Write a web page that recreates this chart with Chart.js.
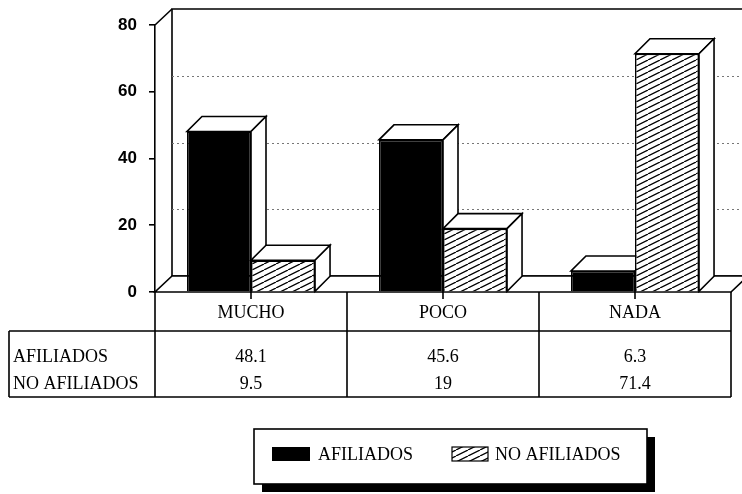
<!DOCTYPE html>
<html>
<head>
<meta charset="utf-8">
<script src="https://cdn.jsdelivr.net/npm/chart.js@4.4.1/dist/chart.umd.min.js"></script>
<style>
  html, body { margin: 0; padding: 0; background: #fff; }
  #wrap { width: 742px; height: 494px; }
</style>
</head>
<body>
<div id="wrap"><canvas id="chart" width="742" height="494"></canvas></div>
<script>
// Grouped 3D-style bars with a data table underneath.
const categories = ['MUCHO', 'POCO', 'NADA'];
const seriesNames = ['AFILIADOS', 'NO AFILIADOS'];
const afiliados = [48.1, 45.6, 6.3];
const noAfiliados = [9.5, 19, 71.4];
const yTicks = [0, 20, 40, 60, 80];

const DEPTH_X = 17;   // back wall offset
const DEPTH_Y = -16;
const BAR_DX = 15;    // bar depth
const BAR_DY = -15;
const LINE_W = 1.6;
const SERIF = '"Liberation Serif", "DejaVu Serif", serif';
const TEXT_FONT = '18px ' + SERIF;

function makeHatch() {
  const c = document.createElement('canvas');
  c.width = 12;
  c.height = 6;
  const g = c.getContext('2d');
  g.fillStyle = '#fff';
  g.fillRect(0, 0, 12, 6);
  g.strokeStyle = '#000';
  g.lineWidth = 1.3;
  g.beginPath();
  for (const off of [-12, 0, 12]) {
    g.moveTo(off, 6);
    g.lineTo(off + 12, 0);
  }
  g.stroke();
  return g.createPattern(c, 'repeat');
}

const hatch = makeHatch();

function poly(ctx, pts, fill) {
  ctx.beginPath();
  ctx.moveTo(pts[0][0], pts[0][1]);
  for (let i = 1; i < pts.length; i++) ctx.lineTo(pts[i][0], pts[i][1]);
  ctx.closePath();
  if (fill) {
    ctx.fillStyle = fill;
    ctx.fill();
  }
  ctx.stroke();
}

const frame3d = {
  id: 'frame3d',
  beforeDatasetsDraw(chart) {
    const { ctx, chartArea: a, scales } = chart;
    const y = scales.y;
    ctx.save();
    ctx.strokeStyle = '#000';
    ctx.lineWidth = LINE_W;

    // back wall
    poly(ctx, [
      [a.left + DEPTH_X, a.top + DEPTH_Y],
      [a.right + DEPTH_X, a.top + DEPTH_Y],
      [a.right + DEPTH_X, a.bottom + DEPTH_Y],
      [a.left + DEPTH_X, a.bottom + DEPTH_Y],
    ], '#fff');

    // dotted grid on the back wall
    ctx.save();
    ctx.strokeStyle = '#777';
    ctx.lineWidth = 1;
    ctx.setLineDash([2, 3]);
    for (const v of yTicks) {
      if (v === 0 || v === yTicks[yTicks.length - 1]) continue;
      const py = Math.round(y.getPixelForValue(v) + DEPTH_Y) + 0.5;
      ctx.beginPath();
      ctx.moveTo(a.left + DEPTH_X, py);
      ctx.lineTo(a.right + DEPTH_X, py);
      ctx.stroke();
    }
    ctx.restore();

    // left wall top edge
    ctx.beginPath();
    ctx.moveTo(a.left, a.top);
    ctx.lineTo(a.left + DEPTH_X, a.top + DEPTH_Y);
    ctx.stroke();

    // floor
    poly(ctx, [
      [a.left, a.bottom],
      [a.right, a.bottom],
      [a.right + DEPTH_X, a.bottom + DEPTH_Y],
      [a.left + DEPTH_X, a.bottom + DEPTH_Y],
    ], '#fff');

    // bar tops and sides, category by category
    const metas = chart.data.datasets.map((_, i) => chart.getDatasetMeta(i));
    for (let c = 0; c < categories.length; c++) {
      for (const meta of metas) {
        const el = meta.data[c];
        const x0 = el.x - el.width / 2;
        const x1 = el.x + el.width / 2;
        const top = el.y;
        const base = el.base;
        poly(ctx, [
          [x0, top], [x1, top], [x1 + BAR_DX, top + BAR_DY], [x0 + BAR_DX, top + BAR_DY],
        ], '#fff');
        poly(ctx, [
          [x1, top], [x1 + BAR_DX, top + BAR_DY], [x1 + BAR_DX, base + BAR_DY], [x1, base],
        ], '#fff');
      }
    }
    ctx.restore();
  },
  afterDraw(chart) {
    const { ctx, chartArea: a, scales } = chart;
    const x = scales.x;
    ctx.save();
    ctx.strokeStyle = '#000';
    ctx.lineWidth = LINE_W;

    // data table
    const tLeft = 9;
    const rowTop = a.bottom;
    const catBottom = 331;
    const tBottom = 397;
    const half = (x.getPixelForValue(1) - x.getPixelForValue(0)) / 2;
    const edges = [a.left];
    for (let i = 0; i < categories.length; i++) edges.push(x.getPixelForValue(i) + half);
    ctx.beginPath();
    ctx.moveTo(tLeft, catBottom); ctx.lineTo(a.right, catBottom);
    ctx.moveTo(tLeft, tBottom); ctx.lineTo(a.right, tBottom);
    ctx.moveTo(tLeft, catBottom); ctx.lineTo(tLeft, tBottom);
    for (const ex of edges) {
      ctx.moveTo(ex, rowTop); ctx.lineTo(ex, tBottom);
    }
    // small centre ticks under the floor
    for (let i = 0; i < categories.length; i++) {
      const cx = x.getPixelForValue(i);
      ctx.moveTo(cx, rowTop); ctx.lineTo(cx, rowTop + 7);
    }
    ctx.stroke();

    ctx.fillStyle = '#000';
    ctx.font = TEXT_FONT;
    ctx.textBaseline = 'middle';
    ctx.textAlign = 'center';
    const rowY = [357, 384];
    const rows = [afiliados, noAfiliados];
    for (let i = 0; i < categories.length; i++) {
      const cx = x.getPixelForValue(i);
      ctx.fillText(categories[i], cx, 313);
      rows.forEach((vals, r) => ctx.fillText(String(vals[i]), cx, rowY[r]));
    }
    ctx.textAlign = 'left';
    seriesNames.forEach((name, r) => ctx.fillText(name, tLeft + 4, rowY[r]));

    // legend with drop shadow
    const lx = 254, ly = 429, lw = 393, lh = 55, sh = 8;
    ctx.fillStyle = '#000';
    ctx.fillRect(lx + sh, ly + lh, lw, sh);
    ctx.fillRect(lx + lw, ly + sh, sh, lh);
    ctx.fillStyle = '#fff';
    ctx.fillRect(lx, ly, lw, lh);
    ctx.strokeRect(lx, ly, lw, lh);

    ctx.fillStyle = '#000';
    ctx.fillRect(272, 447, 38, 14);
    ctx.fillStyle = hatch;
    ctx.fillRect(452, 447, 36, 14);
    ctx.lineWidth = 1.2;
    ctx.strokeRect(452, 447, 36, 14);
    ctx.fillStyle = '#000';
    ctx.font = TEXT_FONT;
    ctx.textAlign = 'left';
    ctx.textBaseline = 'middle';
    ctx.fillText(seriesNames[0], 318, 455);
    ctx.fillText(seriesNames[1], 495, 455);
    ctx.restore();
  },
};

new Chart(document.getElementById('chart'), {
  type: 'bar',
  data: {
    labels: categories,
    datasets: [
      {
        label: seriesNames[0],
        data: afiliados,
        backgroundColor: '#000',
        borderColor: '#000',
        borderWidth: LINE_W,
      },
      {
        label: seriesNames[1],
        data: noAfiliados,
        backgroundColor: hatch,
        borderColor: '#000',
        borderWidth: LINE_W,
      },
    ],
  },
  options: {
    responsive: false,
    animation: false,
    events: [],
    layout: { padding: { left: 0, right: 11, top: 25, bottom: 202 } },
    datasets: { bar: { categoryPercentage: 0.667, barPercentage: 1.0 } },
    scales: {
      x: { display: false, offset: true },
      y: {
        min: 0,
        max: 80,
        afterFit: (s) => { s.width = 155; },
        afterBuildTicks: (s) => { s.ticks = yTicks.map((v) => ({ value: v })); },
        ticks: {
          color: '#000',
          padding: 12,
          font: { family: '"Liberation Sans", Arial, sans-serif', size: 17, weight: 'bold' },
        },
        grid: { drawOnChartArea: false, drawTicks: true, tickLength: 6, color: '#000', lineWidth: LINE_W },
        border: { display: true, color: '#000', width: LINE_W },
      },
    },
    plugins: {
      legend: { display: false },
      tooltip: { enabled: false },
    },
  },
  plugins: [frame3d],
});
</script>
</body>
</html>
